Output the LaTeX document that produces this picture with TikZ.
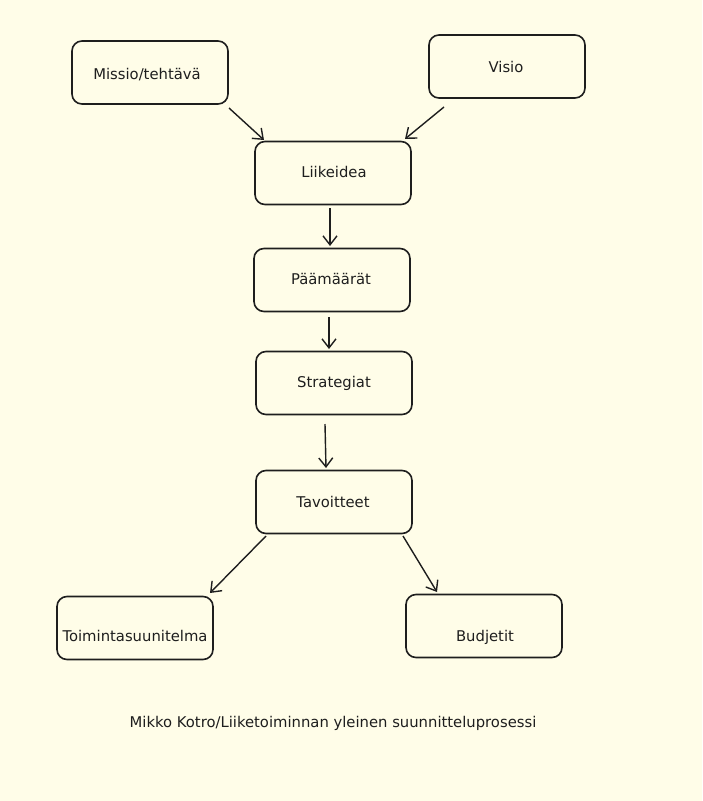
\documentclass[tikz,border=0pt]{standalone}
\usepackage{fontspec}
\setmainfont{DejaVu Sans}
\usetikzlibrary{arrows.meta}
\definecolor{bg}{RGB}{255,253,232}
\definecolor{ink}{RGB}{30,30,30}
\begin{document}
\begin{tikzpicture}[x=1pt,y=-1pt,
  box/.style={draw=ink,line width=1.6pt,rounded corners=10pt,minimum width=156pt,minimum height=63pt,inner sep=0pt},
  txt/.style={text=ink,font=\fontsize{14.8}{17}\selectfont,inner sep=0pt},
  conn/.style={draw=ink,line width=1.4pt,-{Straight Barb[length=9pt,width=14pt,line width=1.4pt]}}]
\fill[bg] (0,0) rectangle (702,801);
\useasboundingbox (0,0) rectangle (702,801);
% boxes
\node[box] (missio) at (150,72.5) {};
\node[box] (visio) at (507,66.5) {};
\node[box] (liike) at (333,173) {};
\node[box] (paam) at (332,280) {};
\node[box] (strat) at (334,383) {};
\node[box] (tavo) at (334,502) {};
\node[box] (toim) at (135,628) {};
\node[box] (budj) at (484,626) {};
% texts
\node[txt] (tmissio) at (147,75) {Missio/tehtävä};
\node[txt] (tvisio) at (506,67) {Visio};
\node[txt] (tliike) at (334,172) {Liikeidea};
\node[txt] (tpaam) at (331,279) {Päämäärät};
\node[txt] (tstrat) at (334,383) {Strategiat};
\node[txt] (ttavo) at (333,502) {Tavoitteet};
\node[txt] (ttoim) at (135,636) {Toimintasuunitelma};
\node[txt] (tbudj) at (485,637) {Budjetit};
\node[txt] (caption) at (333,723) {Mikko Kotro/Liiketoiminnan yleinen suunnitteluprosessi};
% connector end points
\coordinate (a1s) at (229,108); \coordinate (a1e) at (264,140);
\coordinate (a2s) at (444,107); \coordinate (a2e) at (405,139);
\coordinate (a3s) at (330,208); \coordinate (a3e) at (330,246);
\coordinate (a4s) at (329,317); \coordinate (a4e) at (329,349);
\coordinate (a5s) at (325,424); \coordinate (a5e) at (326,468);
\coordinate (a6s) at (266,536); \coordinate (a6e) at (210,593);
\coordinate (a7s) at (403,536); \coordinate (a7e) at (437,592);
\draw[conn] (a1s) -- (a1e);
\draw[conn] (a2s) -- (a2e);
\draw[conn] (a3s) -- (a3e);
\draw[conn] (a4s) -- (a4e);
\draw[conn] (a5s) -- (a5e);
\draw[conn] (a6s) -- (a6e);
\draw[conn] (a7s) -- (a7e);
\end{tikzpicture}
\end{document}
